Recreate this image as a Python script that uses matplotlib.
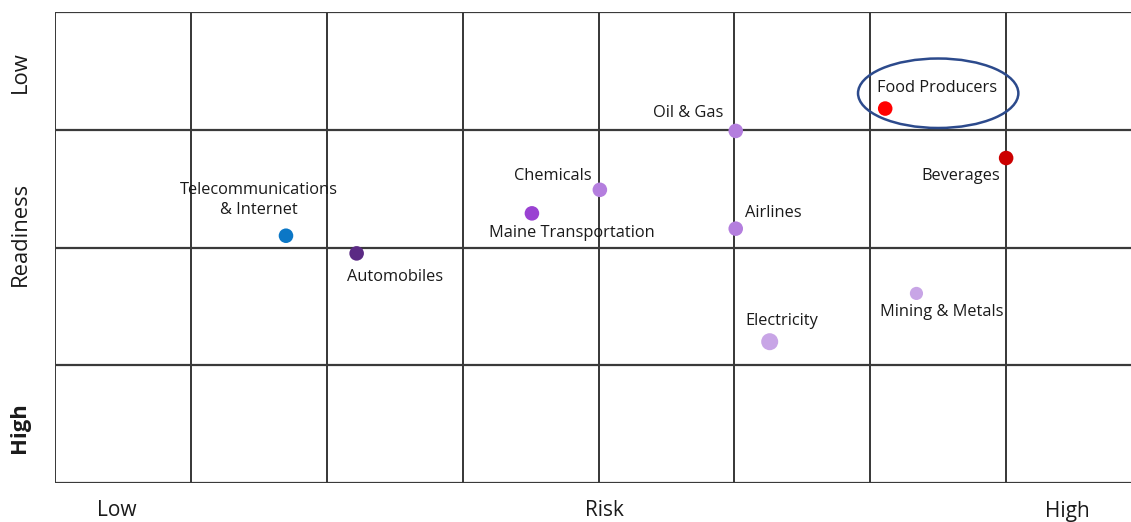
import matplotlib
matplotlib.use("Agg")
import matplotlib.pyplot as plt
from matplotlib.patches import Ellipse

plt.rcParams['font.family'] = ['Open Sans', 'DejaVu Sans']

# Sectors on the risk / readiness grid
sectors = ["Telecommunications\n& Internet", "Automobiles", "Maine Transportation",
           "Chemicals", "Oil & Gas", "Airlines", "Electricity", "Mining & Metals",
           "Food Producers", "Beverages"]
risk = [1.70, 2.22, 3.51, 4.01, 5.01, 5.01, 5.26, 6.34, 6.11, 7.00]
readiness = [2.10, 1.95, 2.29, 2.49, 2.99, 2.16, 1.20, 1.61, 3.18, 2.76]
colors = ["#0b77c6", "#5b2a84", "#9a42d2", "#b47ede", "#b47ede", "#b47ede",
          "#c8a5e6", "#c8a5e6", "#ff0000", "#cc0000"]
sizes = [110, 110, 110, 110, 110, 110, 150, 90, 110, 110]

# label offsets from each marker, in pixels
label_offsets = [(-27, 36), (38, -24), (40, -20), (-47, 14), (-48, 18),
                 (38, 16), (12, 21), (25, -19), (52, 21), (-45, -18)]

x_ticks = ["Low", "Risk", "High"]
y_ticks = ["Low", "Readiness", "High"]

W, H = 1131, 522
fig = plt.figure(figsize=(W / 100, H / 100), dpi=100)
# the grid runs on past the right edge of the figure
ax = fig.add_axes([55 / W, 39 / H, (1142 - 55) / W, 471 / H])
ax.set_xlim(0, 8)
ax.set_ylim(0, 4)
ax.axis("off")

grid_cols = range(0, 8)
grid_rows = range(0, 5)
ax.vlines(list(grid_cols), 0, 4, color="#262626", lw=1.3, zorder=1)
ax.hlines(list(grid_rows), 0, 7.95, color="#3a3a3a", lw=1.6, zorder=1)

ax.scatter(risk, readiness, s=sizes, c=colors, zorder=3, linewidths=0)

for name, xv, yv, (dx, dy) in zip(sectors, risk, readiness, label_offsets):
    ax.annotate(name, (xv, yv), xytext=(dx, dy), textcoords="offset pixels",
                ha="center", va="center", fontsize=11.8, color="#1a1a1a",
                linespacing=1.3, zorder=4)

# highlight around Food Producers
ax.add_patch(Ellipse((6.50, 3.31), 1.18, 0.59, fill=False,
                     edgecolor="#2c4a8c", lw=1.8, zorder=5))

# axis captions
for label, xp in zip(x_ticks, [117, 604, 1067]):
    fig.text(xp / W, 1 - 511 / H, label, ha="center", va="center",
             fontsize=15, color="#1a1a1a")
for label, yp, wt in zip(y_ticks, [72, 234, 428], ["normal", "normal", "bold"]):
    fig.text(20 / W, 1 - yp / H, label, ha="center", va="center",
             rotation=90, fontsize=15.8, color="#1a1a1a", fontweight=wt)

fig.savefig("out.png", dpi=100)
